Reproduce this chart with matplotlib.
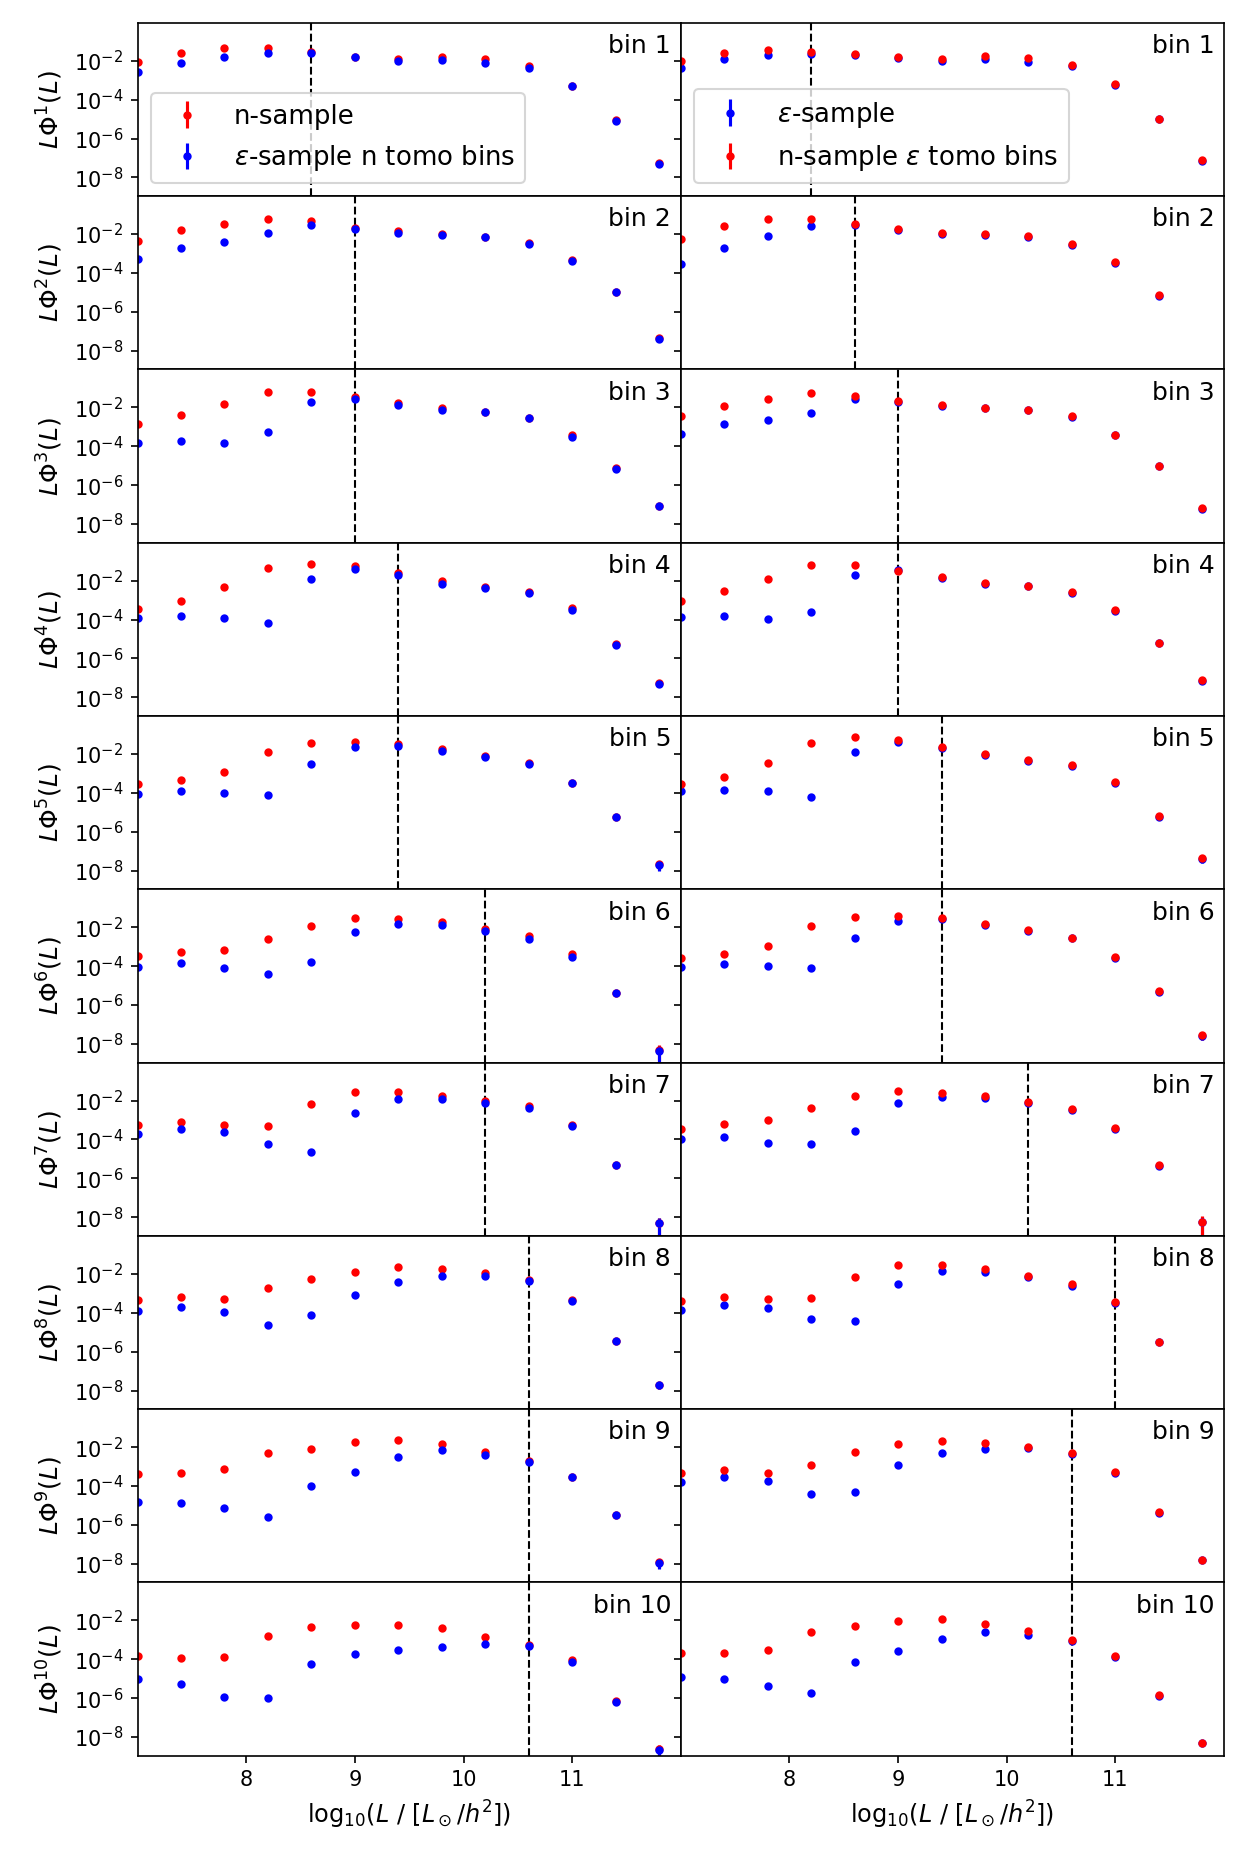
import numpy as np
import matplotlib
matplotlib.use("Agg")
import matplotlib.pyplot as plt
from matplotlib.ticker import NullLocator

# log10(L) bin centres
logL = [7.0, 7.4, 7.8, 8.2, 8.6, 9.0, 9.4, 9.8, 10.2, 10.6, 11.0, 11.4, 11.8]
nan = np.nan

# left column: log10 of L*Phi for n-sample (red) and eps-sample in n tomo bins (blue)
left_red = [
    [-2.06, -1.58, -1.35, -1.35, -1.57, -1.78, -1.89, -1.82, -1.91, -2.27, -3.28, -5.05, -7.28],
    [-2.37, -1.80, -1.47, -1.25, -1.35, -1.70, -1.86, -2.02, -2.15, -2.47, -3.35, -4.97, -7.37],
    [-2.86, -2.39, -1.85, -1.23, -1.23, -1.48, -1.77, -2.03, -2.22, -2.53, -3.44, -5.12, -7.05],
    [-3.45, -3.07, -2.31, -1.35, -1.13, -1.25, -1.62, -2.01, -2.33, -2.60, -3.43, -5.26, -7.27],
    [-3.57, -3.34, -2.93, -1.92, -1.46, -1.40, -1.51, -1.77, -2.12, -2.48, -3.47, -5.22, -7.68],
    [-3.48, -3.28, -3.15, -2.60, -1.91, -1.54, -1.59, -1.75, -2.08, -2.46, -3.38, -5.36, -8.30],
    [-3.28, -3.12, -3.28, -3.31, -2.18, -1.56, -1.56, -1.75, -2.00, -2.27, -3.28, -5.29, -8.30],
    [-3.34, -3.21, -3.28, -2.72, -2.25, -1.89, -1.65, -1.75, -1.94, -2.33, -3.37, -5.43, -7.70],
    [-3.40, -3.34, -3.10, -2.31, -2.08, -1.75, -1.63, -1.85, -2.25, -2.70, -3.52, -5.48, -7.92],
    [-3.81, -3.92, -3.88, -2.81, -2.32, -2.22, -2.22, -2.39, -2.84, -3.27, -4.03, -6.14, -8.62],
]
left_blue = [
    [-2.60, -2.10, -1.80, -1.58, -1.59, -1.80, -2.00, -1.98, -2.11, -2.37, -3.31, -5.08, -7.31],
    [-3.28, -2.72, -2.39, -1.96, -1.54, -1.72, -1.94, -2.05, -2.17, -2.50, -3.38, -4.99, -7.40],
    [-3.81, -3.74, -3.85, -3.29, -1.70, -1.58, -1.89, -2.13, -2.24, -2.56, -3.54, -5.15, -7.07],
    [-3.93, -3.83, -3.93, -4.16, -1.91, -1.42, -1.72, -2.15, -2.36, -2.63, -3.52, -5.29, -7.30],
    [-4.04, -3.90, -3.99, -4.11, -2.53, -1.65, -1.59, -1.87, -2.15, -2.51, -3.50, -5.25, -7.71],
    [-4.02, -3.85, -4.11, -4.38, -3.80, -2.24, -1.85, -1.89, -2.18, -2.58, -3.52, -5.39, -8.34],
    [-3.74, -3.47, -3.60, -4.25, -4.64, -2.63, -1.92, -1.92, -2.11, -2.37, -3.31, -5.32, -8.32],
    [-3.90, -3.71, -3.95, -4.63, -4.12, -3.08, -2.43, -2.11, -2.11, -2.39, -3.40, -5.46, -7.73],
    [-4.82, -4.89, -5.13, -5.58, -4.00, -3.29, -2.53, -2.15, -2.41, -2.77, -3.55, -5.51, -7.95],
    [-5.01, -5.27, -5.93, -6.01, -4.23, -3.71, -3.54, -3.36, -3.22, -3.34, -4.12, -6.17, -8.65],
]

# right column: eps-sample (blue) and n-sample in eps tomo bins (red)
right_blue = [
    [-2.37, -1.91, -1.68, -1.63, -1.70, -1.86, -2.00, -1.92, -2.05, -2.29, -3.25, -5.00, -7.15],
    [-3.55, -2.74, -2.11, -1.58, -1.55, -1.77, -1.98, -2.06, -2.15, -2.57, -3.49, -5.18, nan],
    [-3.36, -2.88, -2.63, -2.27, -1.59, -1.70, -1.91, -2.05, -2.14, -2.48, -3.44, -5.02, -7.23],
    [-3.86, -3.83, -3.97, -3.60, -1.73, -1.45, -1.86, -2.17, -2.29, -2.64, -3.56, -5.23, -7.14],
    [-3.93, -3.83, -3.93, -4.23, -1.92, -1.39, -1.67, -2.05, -2.36, -2.60, -3.47, -5.24, -7.39],
    [-4.04, -3.90, -3.97, -4.11, -2.56, -1.66, -1.58, -1.88, -2.17, -2.57, -3.56, -5.33, -7.60],
    [-4.00, -3.88, -4.18, -4.26, -3.59, -2.11, -1.82, -1.87, -2.12, -2.50, -3.47, -5.38, -8.27],
    [-3.88, -3.62, -3.76, -4.32, -4.44, -2.51, -1.84, -1.89, -2.14, -2.62, -3.51, -5.52, nan],
    [-3.80, -3.55, -3.76, -4.42, -4.30, -2.93, -2.32, -2.11, -2.05, -2.35, -3.32, -5.40, -7.82],
    [-4.89, -5.01, -5.36, -5.74, -4.16, -3.55, -2.98, -2.62, -2.77, -3.07, -3.87, -5.88, -8.32],
]
right_red = [
    [-2.03, -1.58, -1.47, -1.54, -1.65, -1.82, -1.91, -1.75, -1.87, -2.22, -3.21, -4.97, -7.11],
    [-2.24, -1.58, -1.21, -1.20, -1.49, -1.73, -1.94, -2.01, -2.10, -2.53, -3.45, -5.15, nan],
    [-2.46, -1.92, -1.59, -1.28, -1.39, -1.66, -1.87, -2.01, -2.11, -2.44, -3.40, -4.99, -7.19],
    [-3.02, -2.51, -1.91, -1.21, -1.18, -1.49, -1.82, -2.13, -2.25, -2.60, -3.52, -5.20, -7.11],
    [-3.52, -3.17, -2.44, -1.42, -1.14, -1.28, -1.63, -2.01, -2.32, -2.56, -3.43, -5.20, -7.35],
    [-3.60, -3.38, -2.95, -1.94, -1.47, -1.40, -1.54, -1.84, -2.13, -2.53, -3.52, -5.29, -7.56],
    [-3.45, -3.21, -3.00, -2.37, -1.77, -1.49, -1.61, -1.75, -2.08, -2.46, -3.43, -5.34, -8.23],
    [-3.38, -3.21, -3.31, -3.22, -2.17, -1.53, -1.53, -1.77, -2.10, -2.51, -3.47, -5.48, nan],
    [-3.33, -3.15, -3.31, -2.93, -2.24, -1.84, -1.68, -1.80, -1.99, -2.31, -3.28, -5.36, -7.78],
    [-3.67, -3.67, -3.54, -2.62, -2.27, -2.05, -1.94, -2.17, -2.55, -3.03, -3.83, -5.84, -8.28],
]

# relative errors per L bin, and the larger ones of the last bin per tomo bin
rel_err = [0.05, 0.04, 0.04, 0.04, 0.04, 0.03, 0.03, 0.03, 0.04, 0.05, 0.08, 0.15, 0.3]
last_err_left = [0.3, 0.3, 0.25, 0.35, 0.5, 0.75, 0.9, 0.35, 0.5, 0.6]
last_err_right = [0.3, 0.3, 0.3, 0.2, 0.4, 0.4, 0.9, 0.3, 0.3, 0.3]

# cut positions (dashed lines)
cut_left = [8.6, 9.0, 9.0, 9.4, 9.4, 10.2, 10.2, 10.6, 10.6, 10.6]
cut_right = [8.2, 8.6, 9.0, 9.0, 9.4, 9.4, 10.2, 11.0, 10.6, 10.6]


def errs(vals, last):
    e = np.array(rel_err, dtype=float)
    e[-1] = last
    return 10**np.array(vals) * e


fig, axes = plt.subplots(10, 2, figsize=(1246/150, 1868/150), dpi=150)
fig.subplots_adjust(left=0.1104, right=0.9824, top=0.9878, bottom=0.0601,
                    hspace=0, wspace=0)

x = np.array(logL)
for i in range(10):
    axl, axr = axes[i]

    axl.errorbar(x, 10**np.array(left_red[i]), yerr=errs(left_red[i], last_err_left[i]),
                 fmt='.', color='r', label='n-sample')
    axl.errorbar(x, 10**np.array(left_blue[i]), yerr=errs(left_blue[i], last_err_left[i]),
                 fmt='.', color='b', label=r'$\epsilon$-sample n tomo bins')
    axl.axvline(cut_left[i], color='k', ls='--', lw=1)

    axr.errorbar(x, 10**np.array(right_blue[i]), yerr=errs(right_blue[i], last_err_right[i]),
                 fmt='.', color='b', label=r'$\epsilon$-sample')
    axr.errorbar(x, 10**np.array(right_red[i]), yerr=errs(right_red[i], last_err_right[i]),
                 fmt='.', color='r', label=r'n-sample $\epsilon$ tomo bins')
    axr.axvline(cut_right[i], color='k', ls='--', lw=1)

    for ax in (axl, axr):
        ax.set_yscale('log')
        ax.set_xlim(7.0, 12.0)
        ax.set_ylim(1.1e-9, 0.9)
        ax.set_yticks([1e-8, 1e-6, 1e-4, 1e-2])
        ax.yaxis.set_minor_locator(NullLocator())
        ax.set_xticks([8, 9, 10, 11])
        ax.text(0.982, 0.935, 'bin %d' % (i + 1), transform=ax.transAxes,
                ha='right', va='top', fontsize=12)
        if i < 9:
            ax.tick_params(axis='x', bottom=False, labelbottom=False)
        else:
            ax.set_xlabel(r'log$_{10}$($L$ / [$L_\odot/h^2$])', fontsize=11.5)
    axr.tick_params(axis='y', labelleft=False)
    axl.set_ylabel(r'$L\Phi^{%d}(L)$' % (i + 1), fontsize=12)

axes[0, 0].legend(loc='lower left', fontsize=12.5)
axes[0, 1].legend(loc='lower left', fontsize=12.5)

fig.savefig('out.png', dpi=150)
